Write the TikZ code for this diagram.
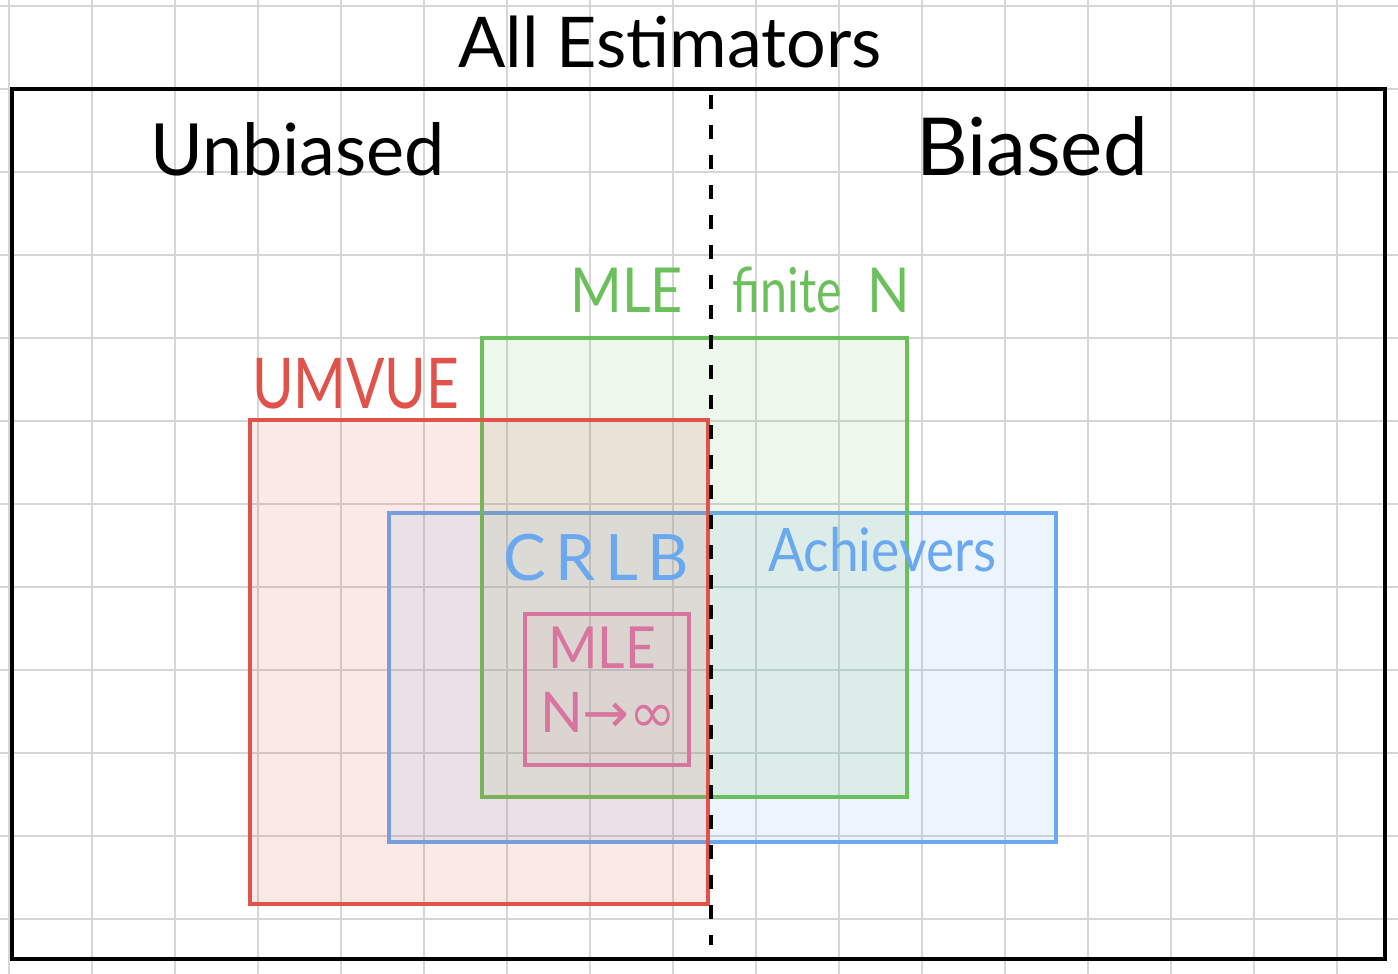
\documentclass[tikz,border=0pt]{standalone}
\usepackage{fontspec}
\setmainfont{Lato}
\newfontfamily\symfont{DejaVu Sans}
\definecolor{gridgray}{HTML}{D6D6D6}
\definecolor{umvuered}{HTML}{E0524A}
\definecolor{mlegreen}{HTML}{6CC05C}
\definecolor{crlbblue}{HTML}{6AA8F0}
\definecolor{mlepink}{HTML}{D874A0}
\newcommand{\handsize}[2]{\fontsize{#1}{1.2\dimexpr#1pt\relax}\selectfont\addfontfeature{FakeStretch=#2}}
\begin{document}
\begin{tikzpicture}[x=1pt, y=-1pt,
		gridline/.style={gridgray, line width=2.5pt},
		setbox/.style={line width=3.5pt, fill opacity=0.12},
		hand/.style={inner sep=0pt, anchor=base west},
	]
	\useasboundingbox (0,0) rectangle (1398,974);
	\fill[white] (0,0) rectangle (1398,974);
	% squared paper
	\foreach \x in {9,92,...,1337} \draw[gridline] (\x,0) -- (\x,974);
	\foreach \y in {6,89,...,919} \draw[gridline] (0,\y) -- (1398,\y);
	% all estimators
	\draw[line width=3.5pt] (12,89) rectangle (1385,959);
	\node[hand] (all) at (458,67) {\handsize{70}{1}All Estimators};
	\node[hand] (unbiased) at (150,175) {\handsize{72}{1}Unbiased};
	\node[hand] (biased) at (916,175) {\handsize{80}{1}Biased};
	% sets
	\draw[setbox, crlbblue, fill=crlbblue] (389,513) rectangle (1056,842);
	\draw[setbox, mlegreen, fill=mlegreen] (482,338) rectangle (907,797);
	\draw[setbox, umvuered, fill=umvuered] (250,420) rectangle (708,904);
	\draw[setbox, mlepink, fill=mlepink, fill opacity=0.06] (525,614) rectangle (689,765);
	\draw[line width=3.5pt, dash pattern=on 14pt off 16pt] (711,95) -- (711,945);
	% labels
	\node[hand, mlegreen] (mlefinite) at (570,312) {\handsize{62}{0.9}MLE\hspace*{50pt}{\addfontfeature{FakeStretch=0.78}finite}\hspace*{26pt}N};
	\node[hand, umvuered] (umvue) at (252,408) {\handsize{70}{0.81}UMVUE};
	\node[hand, crlbblue] (crlb) at (503,580) {\handsize{64}{1}\addfontfeature{LetterSpace=15}CRLB};
	\node[hand, crlbblue] (achievers) at (768,571) {\handsize{60}{0.89}Achievers};
	\node[hand, mlepink] (mleinf) at (548,668) {\handsize{58}{0.92}MLE};
	\node[hand, mlepink] (ninf) at (540,732) {\handsize{56}{1}N{\symfont →∞}};
\end{tikzpicture}
\end{document}
